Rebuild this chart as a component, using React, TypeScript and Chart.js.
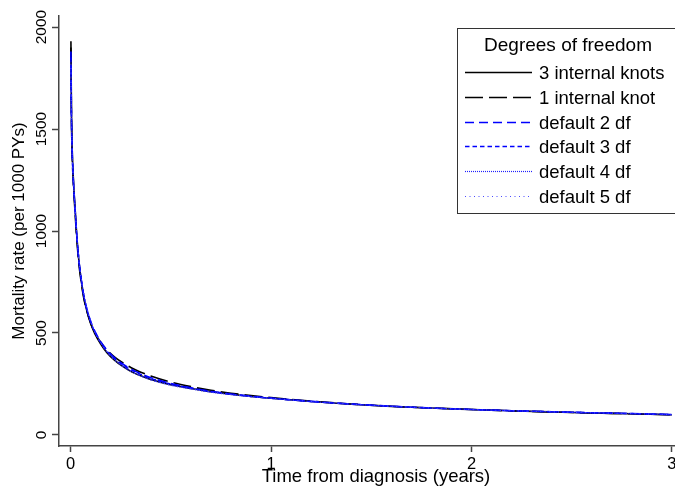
import React, { useEffect, useRef } from "react";
import { Chart, registerables } from "chart.js";

Chart.register(...registerables);

const FONT = '"Liberation Sans", Arial, Helvetica, sans-serif';

const years = [0.0015, 0.004, 0.008, 0.012, 0.016, 0.02, 0.025, 0.03, 0.04, 0.05, 0.06, 0.07, 0.08, 0.1, 0.12, 0.15, 0.18, 0.22, 0.26, 0.3, 0.35, 0.4, 0.5, 0.6, 0.7, 0.8, 0.9, 1.0, 1.2, 1.4, 1.6, 1.8, 2.0, 2.2, 2.4, 2.6, 2.8, 3.0];

const knots3 = [1930, 1600, 1395, 1290, 1208, 1146, 1066, 988, 866, 780, 710, 655, 612, 546, 498, 446, 405, 366, 336, 312, 290, 272, 246, 228, 212, 200, 189, 180, 164, 151, 140, 132, 125, 119, 113, 108, 104, 99];
const knot1 = [1900, 1560, 1360, 1265, 1185, 1125, 1045, 968, 850, 768, 702, 650, 610, 548, 503, 455, 418, 382, 354, 331, 308, 289, 259, 237, 219, 205, 193, 183, 166, 152, 141, 132, 125, 118, 113, 108, 104, 99];
const df2 = [1880, 1575, 1382, 1283, 1203, 1142, 1065, 987, 868, 784, 716, 663, 621, 557, 510, 458, 418, 378, 348, 324, 300, 281, 252, 231, 214, 201, 190, 181, 165, 152, 141, 132, 125, 119, 114, 109, 105, 100];
const df3 = [1850, 1570, 1380, 1285, 1205, 1145, 1068, 990, 870, 785, 716, 662, 619, 554, 506, 453, 413, 374, 344, 320, 297, 278, 250, 230, 213, 200, 189, 180, 164, 151, 141, 132, 125, 119, 114, 109, 105, 100];
const df4 = [1830, 1565, 1378, 1284, 1206, 1147, 1070, 993, 874, 790, 722, 668, 625, 558, 508, 452, 409, 368, 337, 313, 290, 271, 244, 226, 210, 198, 188, 179, 164, 151, 141, 132, 125, 119, 114, 109, 105, 100];
const df5 = [1820, 1562, 1376, 1283, 1205, 1146, 1069, 992, 873, 789, 721, 667, 624, 557, 507, 451, 408, 367, 336, 312, 289, 270, 244, 226, 210, 198, 188, 180, 164, 151, 141, 132, 125, 119, 114, 109, 105, 100];

const seriesValues = [knots3, knot1, df2, df3, df4, df5];
const seriesLabels = ["3 internal knots", "1 internal knot", "default 2 df", "default 3 df", "default 4 df", "default 5 df"];
const legendTitle = "Degrees of freedom";

const xTicks = [0, 1, 2, 3];
const yTicks = [0, 500, 1000, 1500, 2000];
const xTitle = "Time from diagnosis (years)";
const yTitle = "Mortality rate (per 1000 PYs)";

const styles = [
  { color: "#000000", width: 1.6, dash: [] as number[] },
  { color: "#000000", width: 1.6, dash: [18, 6] },
  { color: "#0000ff", width: 1.6, dash: [9, 5] },
  { color: "#0000ff", width: 1.4, dash: [4.5, 3] },
  { color: "#2020ff", width: 1.2, dash: [1, 1] },
  { color: "#4a4aff", width: 1.2, dash: [1, 3.5] },
];

// extend the plot region past the right edge of the picture (the original is cropped there)
const widenPlugin = {
  id: "widenPlot",
  afterLayout(chart: any) {
    const x = chart.scales.x;
    const newRight = 693;
    x.right = newRight;
    x.width = newRight - x.left;
    if (x.configure) x.configure();
    chart.chartArea.right = newRight;
    chart.chartArea.width = newRight - chart.chartArea.left;
  },
};

const legendPlugin = {
  id: "stataLegend",
  afterDraw(chart: any) {
    const ctx = chart.ctx as CanvasRenderingContext2D;
    ctx.save();
    ctx.fillStyle = "#ffffff";
    ctx.fillRect(457.5, 28.5, 260, 185);
    ctx.strokeStyle = "#333333";
    ctx.lineWidth = 1;
    ctx.setLineDash([]);
    ctx.strokeRect(457.5, 28.5, 260, 185);
    ctx.fillStyle = "#000000";
    ctx.font = `19px ${FONT}`;
    ctx.textAlign = "center";
    ctx.textBaseline = "alphabetic";
    ctx.fillText(legendTitle, 568, 51);
    ctx.font = `18.5px ${FONT}`;
    ctx.textAlign = "left";
    ctx.textBaseline = "middle";
    chart.data.datasets.forEach((ds: any, i: number) => {
      const y = Math.round(72 + i * 24.75) + 0.5;
      ctx.beginPath();
      ctx.setLineDash(ds.borderDash || []);
      ctx.strokeStyle = ds.borderColor;
      ctx.lineWidth = ds.borderWidth;
      ctx.moveTo(465, y);
      ctx.lineTo(532, y);
      ctx.stroke();
      ctx.setLineDash([]);
      ctx.fillStyle = "#000000";
      ctx.fillText(ds.label, 539, y + 1);
    });
    ctx.restore();
  },
};

export default function App() {
  const ref = useRef<HTMLCanvasElement>(null);
  useEffect(() => {
    document.body.style.margin = "0";
    if (!ref.current) return;
    const datasets = seriesValues.map((vals, i) => ({
      label: seriesLabels[i],
      data: years.map((t, j) => ({ x: t, y: vals[j] })),
      borderColor: styles[i].color,
      borderWidth: styles[i].width,
      borderDash: styles[i].dash,
      pointRadius: 0,
      fill: false,
      cubicInterpolationMode: "monotone" as const,
      order: 10 - i,
    }));
    const chart = new Chart(ref.current, {
      type: "line",
      data: { datasets },
      plugins: [widenPlugin, legendPlugin],
      options: {
        animation: false,
        responsive: false,
        devicePixelRatio: 1,
        layout: { padding: { top: 16, right: 0, left: 0, bottom: 0 } },
        plugins: { legend: { display: false }, tooltip: { enabled: false } },
        scales: {
          x: {
            type: "linear",
            min: -0.058,
            max: 3.105,
            afterBuildTicks: (s: any) => {
              s.ticks = xTicks.map((v) => ({ value: v }));
            },
            afterFit: (s: any) => {
              s.height = 51;
            },
            grid: { display: true, drawOnChartArea: false, drawTicks: true, tickLength: 6, tickWidth: 1.5, tickColor: "#444444" },
            border: { display: true, color: "#444444", width: 1.5 },
            ticks: { color: "#000000", font: { family: FONT, size: 16.5 }, padding: 3, maxRotation: 0, autoSkip: false, callback: (v: any) => String(v) },
            title: { display: true, text: xTitle, color: "#000000", font: { family: FONT, size: 18.5 }, padding: { top: 0, bottom: 9 } },
          },
          y: {
            type: "linear",
            min: -54,
            max: 2054,
            afterBuildTicks: (s: any) => {
              s.ticks = yTicks.map((v) => ({ value: v }));
            },
            afterFit: (s: any) => {
              s.width = 59;
            },
            grid: { display: true, drawOnChartArea: false, drawTicks: true, tickLength: 7, tickWidth: 1.5, tickColor: "#444444" },
            border: { display: true, color: "#444444", width: 1.5 },
            ticks: { color: "#000000", font: { family: FONT, size: 15.5 }, padding: -6.5, minRotation: 90, maxRotation: 90, crossAlign: "center", autoSkip: false, callback: (v: any) => String(v) },
            title: { display: true, text: yTitle, color: "#000000", font: { family: FONT, size: 17 }, padding: { top: 8.8, bottom: 0 } },
          },
        },
      },
    } as any);
    return () => chart.destroy();
  }, []);
  return (
    <div style={{ width: 675, height: 497, position: "relative" }}>
      <canvas ref={ref} width={675} height={497} style={{ width: 675, height: 497, display: "block" }} />
    </div>
  );
}
